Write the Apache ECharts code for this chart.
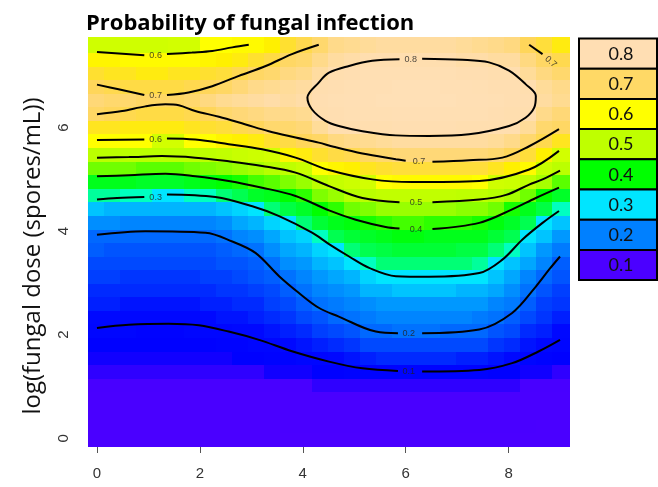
<!DOCTYPE html>
<html><head><meta charset="utf-8">
<script src="https://cdn.jsdelivr.net/npm/echarts@6.0.0/dist/echarts.min.js"></script>
<style>html,body{margin:0;padding:0;background:#fff}#c{width:658px;height:487px}</style>
</head><body><div id="c"></div>
<script>
// ---- grid coordinates (cell centres) ----
const xCenters = [0,0.31,0.62,0.93,1.24,1.55,1.86,2.17,2.48,2.79,3.10,3.41,3.72,4.03,4.34,4.66,4.97,5.28,5.59,5.90,6.21,6.52,6.83,7.14,7.45,7.76,8.07,8.38,8.69,9.00];
const yCenters = [0,0.26,0.52,0.79,1.05,1.31,1.57,1.83,2.10,2.36,2.62,2.88,3.14,3.41,3.67,3.93,4.19,4.45,4.72,4.98,5.24,5.50,5.77,6.03,6.29,6.55,6.81,7.08,7.34,7.60];
// ---- probability per column (bottom -> top) ----
const c00=[0.02,0.02,0.03,0.04,0.05,0.06,0.07,0.08,0.10,0.11,0.13,0.14,0.16,0.17,0.19,0.20,0.24,0.28,0.32,0.38,0.45,0.52,0.60,0.65,0.71,0.73,0.70,0.66,0.62,0.58];
const c01=[0.02,0.02,0.03,0.04,0.05,0.06,0.07,0.08,0.10,0.11,0.13,0.14,0.16,0.17,0.18,0.20,0.24,0.27,0.32,0.38,0.45,0.52,0.60,0.65,0.70,0.72,0.69,0.65,0.62,0.58];
const c02=[0.02,0.02,0.03,0.04,0.05,0.06,0.07,0.08,0.10,0.11,0.12,0.14,0.15,0.17,0.18,0.20,0.23,0.27,0.31,0.38,0.45,0.52,0.60,0.64,0.69,0.72,0.68,0.65,0.61,0.58];
const c03=[0.02,0.02,0.03,0.04,0.05,0.06,0.07,0.08,0.09,0.11,0.12,0.14,0.15,0.17,0.18,0.20,0.23,0.27,0.31,0.37,0.44,0.52,0.60,0.64,0.68,0.71,0.68,0.64,0.61,0.58];
const c04=[0.02,0.02,0.03,0.04,0.05,0.06,0.07,0.08,0.09,0.11,0.12,0.14,0.15,0.17,0.18,0.20,0.23,0.27,0.30,0.37,0.44,0.52,0.59,0.64,0.68,0.71,0.68,0.64,0.61,0.58];
const c05=[0.02,0.02,0.03,0.04,0.05,0.06,0.07,0.08,0.09,0.11,0.12,0.14,0.15,0.17,0.18,0.20,0.23,0.27,0.30,0.37,0.44,0.52,0.59,0.64,0.68,0.71,0.68,0.65,0.61,0.59];
const c06=[0.02,0.02,0.03,0.04,0.05,0.06,0.07,0.08,0.10,0.11,0.12,0.14,0.15,0.17,0.18,0.20,0.23,0.27,0.31,0.38,0.45,0.52,0.60,0.65,0.69,0.72,0.69,0.65,0.61,0.59];
const c07=[0.02,0.02,0.03,0.04,0.05,0.06,0.07,0.08,0.10,0.11,0.13,0.14,0.16,0.17,0.18,0.20,0.23,0.27,0.31,0.39,0.46,0.53,0.60,0.66,0.70,0.74,0.70,0.66,0.62,0.60];
const c08=[0.02,0.02,0.03,0.04,0.05,0.06,0.07,0.09,0.10,0.12,0.13,0.15,0.16,0.18,0.19,0.21,0.24,0.28,0.33,0.40,0.47,0.54,0.62,0.67,0.72,0.76,0.71,0.67,0.63,0.60];
const c09=[0.02,0.02,0.03,0.04,0.05,0.06,0.08,0.09,0.11,0.12,0.14,0.15,0.17,0.18,0.20,0.23,0.26,0.29,0.34,0.41,0.48,0.56,0.63,0.69,0.73,0.77,0.73,0.69,0.64,0.61];
const c10=[0.02,0.02,0.03,0.04,0.05,0.06,0.08,0.10,0.11,0.13,0.14,0.16,0.18,0.19,0.21,0.24,0.27,0.30,0.37,0.43,0.49,0.57,0.64,0.70,0.74,0.78,0.75,0.71,0.66,0.61];
const c11=[0.02,0.02,0.03,0.04,0.05,0.07,0.09,0.10,0.12,0.14,0.16,0.17,0.19,0.21,0.24,0.26,0.29,0.33,0.38,0.44,0.51,0.59,0.66,0.72,0.75,0.79,0.76,0.72,0.68,0.63];
const c12=[0.02,0.03,0.03,0.04,0.05,0.07,0.09,0.11,0.13,0.15,0.17,0.19,0.21,0.24,0.26,0.28,0.30,0.35,0.40,0.46,0.53,0.62,0.68,0.72,0.75,0.78,0.77,0.74,0.71,0.66];
const c13=[0.02,0.03,0.03,0.04,0.05,0.07,0.10,0.12,0.14,0.17,0.19,0.21,0.23,0.25,0.27,0.29,0.33,0.37,0.42,0.48,0.56,0.64,0.70,0.73,0.76,0.79,0.78,0.75,0.72,0.69];
const c14=[0.02,0.03,0.03,0.04,0.06,0.08,0.10,0.13,0.16,0.18,0.21,0.23,0.25,0.27,0.29,0.31,0.36,0.40,0.46,0.52,0.60,0.66,0.71,0.77,0.80,0.81,0.80,0.78,0.75,0.72];
const c15=[0.02,0.03,0.03,0.04,0.06,0.08,0.11,0.14,0.17,0.20,0.22,0.24,0.26,0.28,0.30,0.34,0.38,0.42,0.48,0.55,0.62,0.68,0.74,0.80,0.81,0.82,0.81,0.80,0.78,0.75];
const c16=[0.02,0.03,0.03,0.04,0.06,0.09,0.12,0.15,0.18,0.21,0.23,0.25,0.27,0.30,0.33,0.36,0.39,0.45,0.51,0.57,0.63,0.69,0.75,0.80,0.82,0.83,0.82,0.81,0.79,0.76];
const c17=[0.02,0.03,0.03,0.04,0.06,0.09,0.13,0.17,0.20,0.22,0.24,0.27,0.29,0.31,0.34,0.37,0.41,0.46,0.52,0.59,0.65,0.71,0.76,0.80,0.82,0.83,0.83,0.82,0.80,0.77];
const c18=[0.02,0.03,0.03,0.04,0.06,0.09,0.14,0.17,0.20,0.23,0.25,0.27,0.30,0.33,0.35,0.38,0.42,0.48,0.54,0.60,0.66,0.72,0.77,0.80,0.82,0.84,0.83,0.82,0.80,0.78];
const c19=[0.02,0.03,0.03,0.04,0.06,0.09,0.14,0.17,0.21,0.23,0.25,0.28,0.30,0.33,0.36,0.39,0.43,0.48,0.54,0.61,0.67,0.73,0.78,0.81,0.83,0.84,0.84,0.82,0.80,0.78];
const c20=[0.02,0.03,0.03,0.04,0.06,0.09,0.14,0.17,0.21,0.23,0.25,0.28,0.30,0.33,0.36,0.39,0.43,0.48,0.54,0.61,0.67,0.73,0.78,0.81,0.83,0.84,0.84,0.82,0.80,0.78];
const c21=[0.02,0.03,0.03,0.04,0.06,0.09,0.14,0.17,0.21,0.23,0.25,0.28,0.30,0.33,0.36,0.38,0.42,0.48,0.54,0.61,0.67,0.73,0.78,0.81,0.83,0.84,0.84,0.82,0.80,0.78];
const c22=[0.02,0.03,0.03,0.04,0.06,0.09,0.14,0.17,0.20,0.23,0.25,0.28,0.30,0.33,0.36,0.38,0.42,0.48,0.54,0.61,0.67,0.73,0.78,0.81,0.82,0.84,0.83,0.82,0.80,0.78];
const c23=[0.02,0.03,0.03,0.04,0.06,0.09,0.13,0.17,0.20,0.23,0.25,0.27,0.30,0.33,0.35,0.38,0.42,0.47,0.53,0.61,0.67,0.73,0.78,0.80,0.82,0.83,0.83,0.81,0.79,0.77];
const c24=[0.02,0.03,0.03,0.04,0.06,0.09,0.13,0.17,0.20,0.22,0.25,0.27,0.30,0.32,0.35,0.38,0.41,0.47,0.53,0.60,0.67,0.73,0.78,0.80,0.82,0.83,0.82,0.81,0.79,0.76];
const c25=[0.02,0.03,0.03,0.04,0.06,0.08,0.12,0.15,0.18,0.21,0.23,0.26,0.28,0.30,0.33,0.36,0.39,0.45,0.51,0.58,0.65,0.72,0.77,0.80,0.81,0.82,0.81,0.80,0.78,0.75];
const c26=[0.02,0.03,0.03,0.04,0.06,0.08,0.11,0.14,0.17,0.19,0.22,0.24,0.26,0.28,0.31,0.34,0.37,0.41,0.49,0.57,0.63,0.70,0.75,0.80,0.80,0.81,0.81,0.80,0.78,0.74];
const c27=[0.02,0.03,0.03,0.04,0.05,0.07,0.10,0.12,0.14,0.17,0.19,0.21,0.23,0.26,0.28,0.30,0.34,0.38,0.45,0.53,0.61,0.67,0.72,0.77,0.80,0.81,0.80,0.77,0.74,0.70];
const c28=[0.02,0.02,0.03,0.04,0.05,0.07,0.09,0.11,0.13,0.15,0.16,0.18,0.20,0.23,0.25,0.28,0.30,0.35,0.40,0.49,0.56,0.63,0.69,0.72,0.75,0.78,0.77,0.74,0.71,0.67];
const c29=[0.02,0.02,0.03,0.04,0.05,0.06,0.08,0.10,0.11,0.13,0.15,0.16,0.18,0.19,0.22,0.25,0.28,0.31,0.37,0.44,0.52,0.59,0.65,0.71,0.73,0.76,0.75,0.72,0.69,0.64];
const probCols=[c00,c01,c02,c03,c04,c05,c06,c07,c08,c09,c10,c11,c12,c13,c14,c15,c16,c17,c18,c19,c20,c21,c22,c23,c24,c25,c26,c27,c28,c29];

// ---- contour lines (x, y), split where labels sit ----
const contour01=[[[0,2.13],[0.62,2.19],[1.39,2.21],[1.98,2.18],[2.56,2.06],[3.15,1.90],[3.79,1.68],[4.51,1.48],[5.16,1.35],[5.85,1.30]],
                 [[6.32,1.29],[7.43,1.32],[8.07,1.45],[8.59,1.68],[9.0,1.90]]];
const contour02=[[[0,3.93],[0.94,4.0],[2.11,3.97],[2.63,3.80],[3.08,3.58],[3.54,3.13],[3.92,2.81],[4.31,2.52],[4.70,2.35],[5.42,2.06],[5.85,2.03]],
                 [[6.32,2.03],[7.43,2.10],[8.07,2.42],[8.53,2.93],[8.79,3.26],[9.0,3.51]]];
const contour03=[[[0,4.61],[0.39,4.64],[0.92,4.66]],
                 [[1.36,4.71],[2.3,4.66],[3.02,4.48],[3.54,4.29],[4.18,3.97],[4.51,3.75],[4.90,3.51],[5.29,3.29],[5.81,3.13],[6.45,3.12],[7.43,3.19],[7.88,3.45],[8.27,3.84],[8.66,4.16],[8.98,4.39]]];
const contour04=[[[0,5.06],[0.62,5.08],[1.33,5.11],[1.91,5.06],[2.56,4.97],[3.21,4.84],[3.86,4.68],[4.51,4.40],[5.03,4.22],[5.61,4.08],[5.88,4.05]],
                 [[6.52,4.04],[7.43,4.16],[8.07,4.42],[8.53,4.64],[8.98,4.84]]];
const contour05=[[[0,5.42],[0.62,5.43],[1.26,5.45],[1.91,5.42],[2.56,5.35],[3.21,5.26],[3.86,5.13],[4.51,4.87],[5.16,4.64],[5.88,4.56]],
                 [[6.52,4.56],[7.43,4.61],[7.95,4.70],[8.40,4.90],[8.66,5.0],[9.0,5.17]]];
const contour06=[[[0,5.76],[0.92,5.77]],
                 [[1.36,5.79],[1.91,5.77],[2.56,5.68],[3.21,5.58],[3.86,5.42],[4.51,5.18],[5.35,5.0],[6.13,4.95],[7.43,4.97],[8.40,5.19],[8.98,5.55]],
                 [[0,7.46],[0.92,7.40]],
                 [[1.36,7.42],[1.85,7.45],[2.24,7.48],[2.63,7.55],[2.95,7.6]]];
const contour07=[[[0,6.83],[0.42,6.74],[0.92,6.63]],
                 [[1.36,6.63],[1.78,6.68],[2.24,6.80],[2.76,7.0],[3.28,7.19],[3.79,7.42],[4.31,7.6]],
                 [[0,6.26],[0.49,6.32],[0.94,6.41],[1.33,6.45],[1.59,6.43],[1.91,6.32],[2.37,6.21],[2.89,6.06],[3.34,5.93],[3.86,5.81],[4.31,5.71],[4.6,5.63],[5.16,5.50],[5.81,5.39],[6.0,5.36]],
                 [[6.52,5.34],[7.23,5.37],[7.88,5.42],[8.40,5.64],[8.98,5.97]],
                 [[8.40,7.6],[8.66,7.42]]];
const contour08=[[[6.32,7.33],[7.10,7.31],[7.62,7.26],[8.01,7.10],[8.33,6.84],[8.53,6.61],[8.50,6.39],[8.33,6.19],[8.01,6.03],[7.23,5.87],[6.45,5.84],[5.81,5.85],[5.16,5.93],[4.70,6.03],[4.44,6.13],[4.18,6.35],[4.09,6.58],[4.31,6.87],[4.51,7.06],[4.90,7.19],[5.35,7.29],[5.88,7.32]]];
const contourLabels=[['0.1',6.06,1.28,0],['0.2',6.06,2.02,0],['0.3',1.14,4.65,0],['0.4',6.2,4.04,0],['0.5',6.2,4.55,0],
                     ['0.6',1.14,5.77,0],['0.6',1.14,7.40,0],['0.7',1.14,6.62,0],['0.7',6.26,5.34,0],['0.7',8.82,7.27,-42],['0.8',6.10,7.32,0]];
// ---- legend ----
const legendLabels=['0.8','0.7','0.6','0.5','0.4','0.3','0.2','0.1'];
const legendColors=['#FFDEB3','#FFD966','#FFFF00','#BFFF00','#00FF00','#00E5FF','#0080FF','#4B00FF'];
const xTicks=[0,2,4,6,8];
const yTicks=[0,2,4,6];

// ---- colour ramp (style) ----
const rampStops=[[0,'#4B00FF'],[0.05,'#4800FF'],[0.065,'#2200FF'],[0.075,'#0000FF'],[0.11,'#0008FF'],[0.15,'#0035FF'],[0.20,'#0068FF'],
  [0.25,'#0098FF'],[0.28,'#00C4FF'],[0.30,'#00E5FF'],[0.31,'#00FFC0'],[0.34,'#00FF50'],[0.40,'#00FF00'],[0.45,'#70FF00'],
  [0.50,'#B4FF00'],[0.595,'#D4FF00'],[0.60,'#FFFF00'],[0.63,'#FFF000'],[0.66,'#FFE030'],[0.70,'#FFD65A'],[0.75,'#FFDA8A'],[0.80,'#FFDEAF'],[0.85,'#FFE0B8']];
function hex(c){return [parseInt(c.slice(1,3),16),parseInt(c.slice(3,5),16),parseInt(c.slice(5,7),16)];}
const ramp=[];
for(let k=0;k<=170;k++){
  const v=k/200; let a=rampStops[0],b=rampStops[rampStops.length-1];
  for(let s=0;s<rampStops.length-1;s++){ if(v>=rampStops[s][0]&&v<=rampStops[s+1][0]){a=rampStops[s];b=rampStops[s+1];break;} }
  const t=b[0]===a[0]?0:(v-a[0])/(b[0]-a[0]); const ca=hex(a[1]),cb=hex(b[1]);
  ramp.push('rgb('+ca.map((q,i)=>Math.round(q+(cb[i]-q)*t)).join(',')+')');
}

const heatData=[];
xCenters.forEach((x,i)=>yCenters.forEach((y,j)=>heatData.push([x,y,probCols[i][j]])));
const cellW=9/29, cellH=7.6/29;

const series=[{
  type:'custom', coordinateSystem:'cartesian2d', data:heatData, z:1,
  renderItem:function(params,api){
    const x=api.value(0), y=api.value(1);
    const p1=api.coord([x-cellW/2,y+cellH/2]); const p2=api.coord([x+cellW/2,y-cellH/2]);
    const x0=Math.floor(p1[0]), y0=Math.floor(p1[1]);
    return {type:'rect',shape:{x:x0,y:y0,width:Math.ceil(p2[0])-x0+1,height:Math.ceil(p2[1])-y0+1},style:{fill:api.visual('color')}};
  },
  encode:{x:0,y:1}, silent:true
}];
[contour01,contour02,contour03,contour04,contour05,contour06,contour07,contour08].forEach(level=>{
  level.forEach(seg=>series.push({type:'line',data:seg,smooth:0.35,symbol:'none',silent:true,z:3,
    lineStyle:{color:'#000',width:2}}));
});
series.push({type:'scatter',symbol:'circle',symbolSize:2,itemStyle:{color:'rgba(0,0,0,0)'},silent:true,z:4,
  data:contourLabels.map(l=>({name:l[0],value:[l[1],l[2]],label:{rotate:l[3]}})),
  label:{show:true,position:'inside',formatter:'{b}',color:'#222',fontSize:9,fontFamily:'Liberation Sans, Arial'}});

const graphics=[
  {type:'text',left:86,top:13,style:{text:'Probability of fungal infection',font:'bold 22px "Open Sans"',fill:'#000'}},
  {type:'text',x:33,y:256,rotation:Math.PI/2,style:{text:'log(fungal dose (spores/mL))',font:'24px "Open Sans"',fill:'#111',align:'center',verticalAlign:'middle'}}
];
legendLabels.forEach((lab,i)=>{
  graphics.push({type:'rect',shape:{x:579,y:38.5+i*30.2,width:78,height:30.2},style:{fill:legendColors[i],stroke:'#000',lineWidth:2}});
  graphics.push({type:'text',x:621,y:38.5+i*30.2+15.5,style:{text:lab,font:'18px Lato',fill:'#111',align:'center',verticalAlign:'middle'}});
});

const chart=echarts.init(document.getElementById('c'),null,{renderer:'canvas'});
chart.setOption({
  animation:false,
  grid:{left:89,right:90,top:38,bottom:42,containLabel:false},
  visualMap:{show:false,type:'continuous',min:0,max:0.85,dimension:2,seriesIndex:0,inRange:{color:ramp}},
  xAxis:{type:'value',min:-0.155,max:9.155,splitLine:{show:false},
    axisLine:{show:true,onZero:false,lineStyle:{color:'#444',width:1}},
    axisTick:{show:true,length:8,customValues:xTicks,lineStyle:{color:'#555'}},
    axisLabel:{customValues:xTicks,fontSize:15,color:'#333',margin:21,fontFamily:'Liberation Sans, Arial'}},
  yAxis:[{type:'value',min:-0.131,max:7.731,splitLine:{show:false},
    axisLine:{show:false},
    axisTick:{show:true,length:8,customValues:yTicks,lineStyle:{color:'#555'}},
    axisLabel:{customValues:yTicks,rotate:90,fontSize:15,color:'#333',margin:18,fontFamily:'Liberation Sans, Arial'}},
    {type:'value',position:'right',min:-0.131,max:7.731,splitLine:{show:false},
    axisLine:{show:true,lineStyle:{color:'#222',width:1.2}},axisTick:{show:false},axisLabel:{show:false}}],
  graphic:graphics,
  series:series
});
</script></body></html>
